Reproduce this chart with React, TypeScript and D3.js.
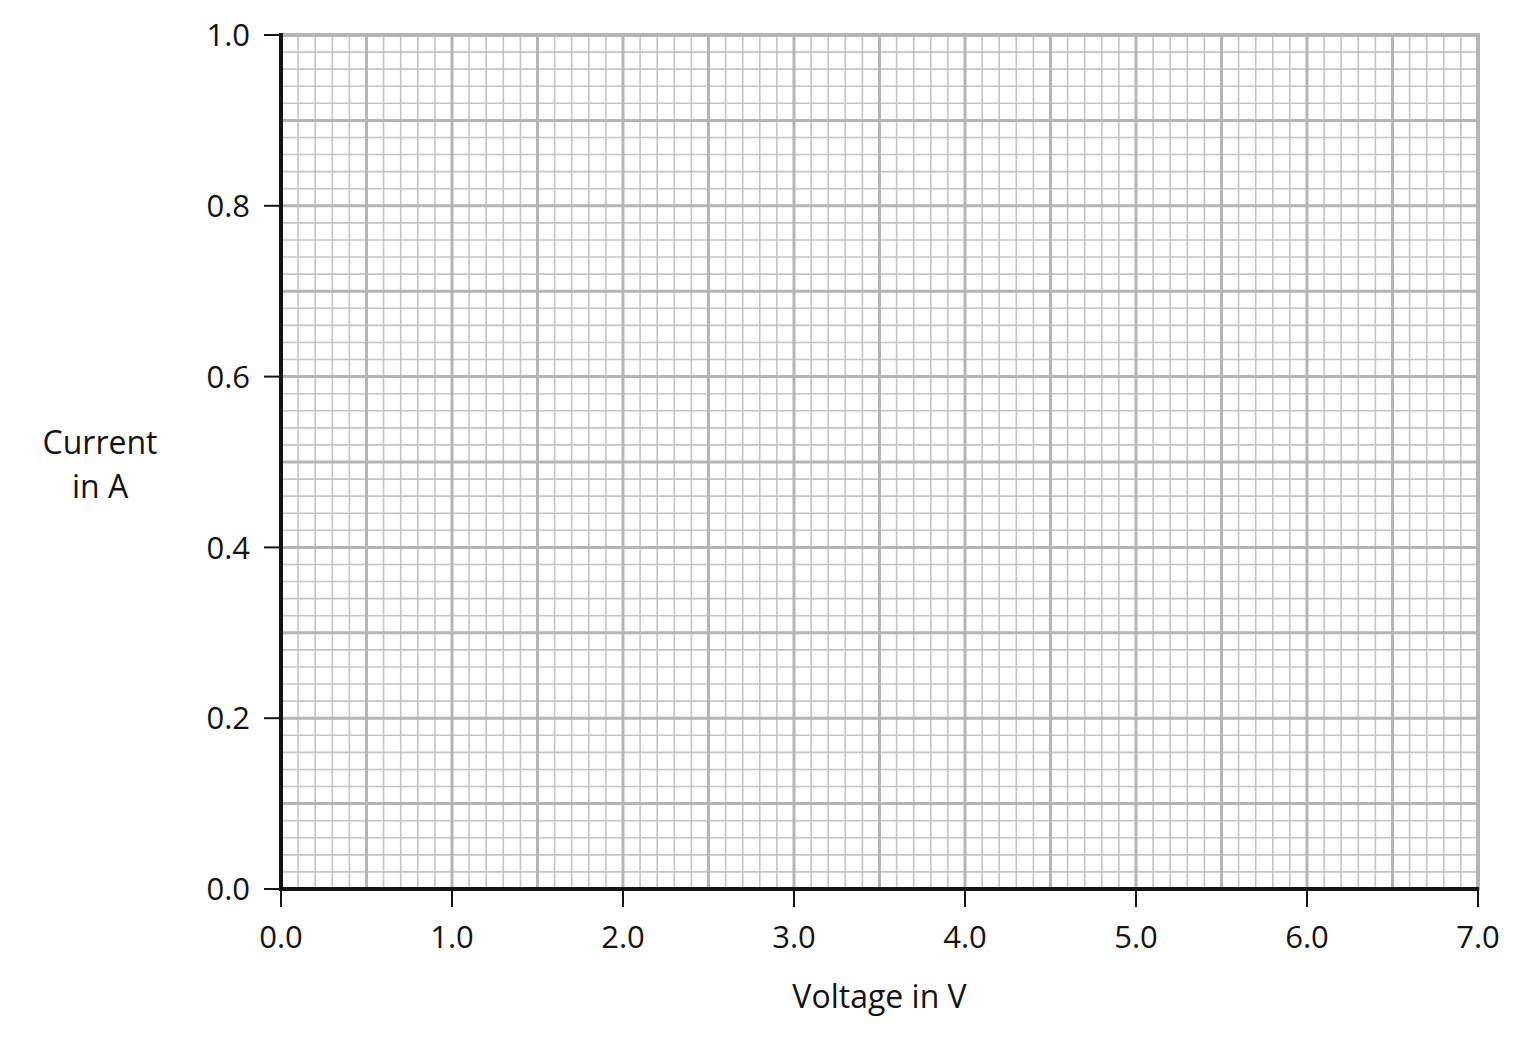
import React from "react";
import * as d3 from "d3";

const xDomain: [number, number] = [0, 7];
const yDomain: [number, number] = [0, 1];
const xTickValues = [0, 1, 2, 3, 4, 5, 6, 7];
const yTickValues = [0, 0.2, 0.4, 0.6, 0.8, 1.0];
const xMinorStep = 0.1;
const xMajorStep = 0.5;
const yMinorStep = 0.02;
const yMajorStep = 0.1;
const xLabel = "Voltage in V";
const yLabelLines = ["Current", "in A"];

const W = 1536;
const H = 1060;
const FONT = "'Open Sans', 'Noto Sans', sans-serif";

export default function App() {
  const x = d3.scaleLinear().domain(xDomain).range([281, 1478]);
  const y = d3.scaleLinear().domain(yDomain).range([889, 35]);

  const xMinor = d3.range(0, Math.round((xDomain[1] - xDomain[0]) / xMinorStep) + 1).map((i) => xDomain[0] + i * xMinorStep);
  const yMinor = d3.range(0, Math.round((yDomain[1] - yDomain[0]) / yMinorStep) + 1).map((i) => yDomain[0] + i * yMinorStep);
  const isMajor = (v: number, step: number) => Math.abs(v / step - Math.round(v / step)) < 1e-6;

  const minorColor = "#c4c4c4";
  const majorColor = "#b5b5b5";
  const ink = "#141414";

  return (
    <div style={{ position: "absolute", left: 0, top: 0 }}>
      <svg width={W} height={H} style={{ display: "block", background: "#fff" }}>
        {/* minor grid */}
        <g>
          {xMinor.filter((v) => !isMajor(v, xMajorStep)).map((v, i) => (
            <line key={"xm" + i} x1={x(v)} x2={x(v)} y1={y(yDomain[0])} y2={y(yDomain[1])} stroke={minorColor} strokeWidth={1.6} />
          ))}
          {yMinor.filter((v) => !isMajor(v, yMajorStep)).map((v, i) => (
            <line key={"ym" + i} y1={y(v)} y2={y(v)} x1={x(xDomain[0])} x2={x(xDomain[1])} stroke={minorColor} strokeWidth={1.6} />
          ))}
        </g>
        {/* major grid */}
        <g>
          {xMinor.filter((v) => isMajor(v, xMajorStep)).map((v, i) => (
            <line key={"xM" + i} x1={x(v)} x2={x(v)} y1={y(yDomain[0])} y2={y(yDomain[1]) - 2} stroke={majorColor} strokeWidth={v === xDomain[1] ? 4 : 3} />
          ))}
          {yMinor.filter((v) => isMajor(v, yMajorStep)).map((v, i) => (
            <line key={"yM" + i} y1={y(v)} y2={y(v)} x1={x(xDomain[0])} x2={x(xDomain[1]) + 2} stroke={majorColor} strokeWidth={v === yDomain[1] ? 4 : 3} />
          ))}
        </g>
        {/* axes */}
        <line x1={x(0)} x2={x(0)} y1={y(0) + 2} y2={y(1) - 2} stroke={ink} strokeWidth={4} />
        <line x1={x(0) - 2} x2={x(7) + 1} y1={y(0)} y2={y(0)} stroke={ink} strokeWidth={4} />
        {/* y ticks */}
        {yTickValues.map((v, i) => (
          <g key={"yt" + i}>
            <line x1={x(0) - 17} x2={x(0)} y1={y(v)} y2={y(v)} stroke={ink} strokeWidth={2} />
            <text x={x(0) - 31} y={y(v)} dy="0.36em" textAnchor="end" fontFamily={FONT} fontSize={31} fill={ink}>
              {d3.format(".1f")(v)}
            </text>
          </g>
        ))}
        {/* x ticks */}
        {xTickValues.map((v, i) => (
          <g key={"xt" + i}>
            <line x1={x(v)} x2={x(v)} y1={y(0)} y2={y(0) + 18} stroke={ink} strokeWidth={2} />
            <text x={x(v)} y={948} textAnchor="middle" fontFamily={FONT} fontSize={31} fill={ink}>
              {d3.format(".1f")(v)}
            </text>
          </g>
        ))}
        {/* axis labels */}
        <text x={(x(0) + x(7)) / 2} y={1008} textAnchor="middle" fontFamily={FONT} fontSize={32} fill={ink}>
          {xLabel}
        </text>
        {yLabelLines.map((t, i) => (
          <text key={"yl" + i} x={100} y={454 + i * 44} textAnchor="middle" fontFamily={FONT} fontSize={32} fill={ink}>
            {t}
          </text>
        ))}
      </svg>
    </div>
  );
}
